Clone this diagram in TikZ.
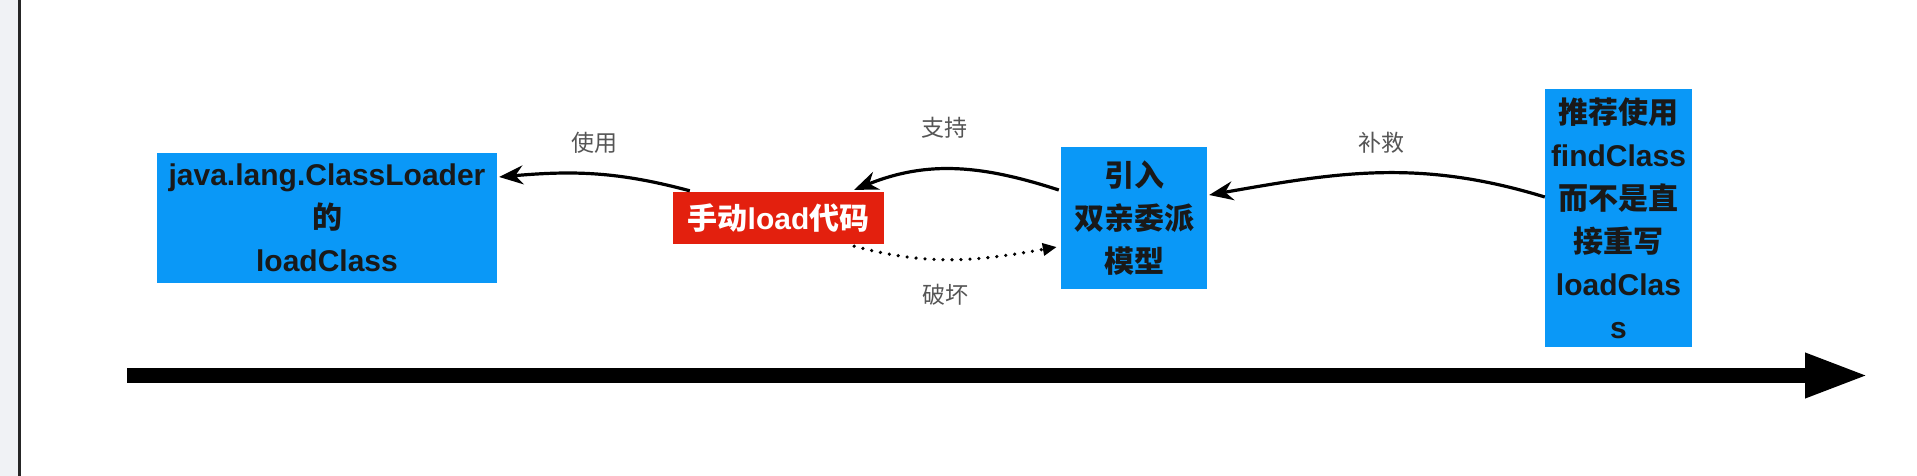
\documentclass[tikz,border=0pt]{standalone}
\usepackage{fontspec}
\setmainfont{Liberation Sans}
\newfontfamily\cjk{Noto Sans CJK SC}
\usetikzlibrary{arrows.meta,calc}
\definecolor{boxblue}{HTML}{0A98F7}
\definecolor{boxred}{HTML}{E3200E}
\definecolor{labgray}{HTML}{555555}
\definecolor{margray}{HTML}{F0F2F5}
\tikzset{
  bluebox/.style={fill=boxblue, draw=none, inner sep=0pt, align=center,
    font=\bfseries\fontsize{30}{43}\selectfont, text=black!90},
  redbox/.style={fill=boxred, draw=none, inner sep=0pt, align=center,
    font=\bfseries\fontsize{30}{43}\selectfont, text=white},
  lab/.style={font=\cjk\fontsize{23}{23}\selectfont, text=labgray},
  conn/.style={line width=3.2pt, black, -{Stealth[length=24pt,width=19pt]}},
  dotconn/.style={line width=3.6pt, black, dash pattern=on 0pt off 9pt, line cap=round,
    -{Triangle[length=14pt,width=12pt]}},
}
\begin{document}
\begin{tikzpicture}[x=1pt,y=-1pt]
\useasboundingbox (0,0) rectangle (1917,476);
\fill[white] (0,0) rectangle (1917,476);
\fill[margray] (0,0) rectangle (18,476);
\draw[line width=2.5pt, black!85] (19.5,0) -- (19.5,476);

\node[bluebox, minimum width=340pt, minimum height=130pt] (cl) at (327,218)
  {java.lang.ClassLoader\\{\cjk\bfseries 的}\\loadClass};
\node[redbox, minimum width=211pt, minimum height=52pt] (man) at (778.5,218)
  {{\cjk\bfseries 手动}load{\cjk\bfseries 代码}};
\node[bluebox, minimum width=146pt, minimum height=142pt] (pd) at (1134,218)
  {{\cjk\bfseries 引入}\\{\cjk\bfseries 双亲委派}\\{\cjk\bfseries 模型}};
\node[bluebox, minimum width=147pt, minimum height=258pt] (rec) at (1618.5,218)
  {{\cjk\bfseries 推荐使用}\\findClass\\{\cjk\bfseries 而不是直}\\{\cjk\bfseries 接重写}\\loadClas\\s};

\node[lab] (l1) at (594,143) {使用};
\node[lab] (l2) at (944,128) {支持};
\node[lab] (l3) at (1381,143) {补救};
\node[lab] (l4) at (945,295) {破坏};

\draw[conn] ($(man.north west)+(17,-1)$) to[out=165,in=5] ($(cl.east)+(2,-41)$);
\draw[conn] ($(pd.west)+(-2,-28)$) to[out=162,in=22] ($(man.north east)+(-30,-2)$);
\draw[conn] ($(rec.west)+(0,-21)$) to[out=163,in=10] ($(pd.east)+(2,-23)$);
\draw[dotconn] ($(man.south east)+(-30,2)$) to[out=-15,in=190] ($(pd.west)+(-4,29)$);

\coordinate (t0) at (127,375.5);
\coordinate (t1) at (1869,375.5);
\draw[line width=15pt, -{Triangle[length=64pt,width=41pt]}] (t0) -- (t1);
\end{tikzpicture}
\end{document}
